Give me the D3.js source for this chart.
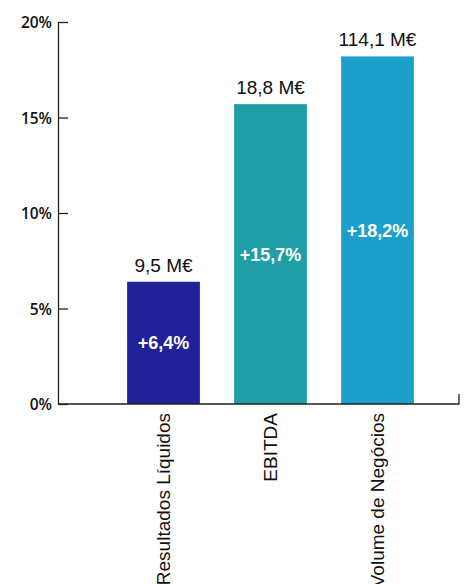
<!DOCTYPE html>
<html lang="pt">
<head>
  <meta charset="UTF-8">
  <title>Resultados</title>
  <script src="https://d3js.org/d3.v7.min.js"></script>
  <style>
    body { margin: 0; background: #fff; }
    .tick-label { font-family: "Open Sans", sans-serif; font-weight: 600; font-size: 15.5px; fill: #111; }
    .value-label { font-family: "Liberation Sans", Arial, sans-serif; font-size: 19px; fill: #111; text-anchor: middle; }
    .inner-label { font-family: "Liberation Sans", Arial, sans-serif; font-weight: bold; font-size: 18px; fill: #fff; text-anchor: middle; }
    .cat-label { font-family: "Liberation Sans", Arial, sans-serif; font-size: 19px; fill: #111; text-anchor: end; }
  </style>
</head>
<body>
  <div id="chart"></div>
  <script>
    const categories = ["Resultados Líquidos", "EBITDA", "Volume de Negócios"];
    const growth = [6.4, 15.7, 18.2];
    const amounts = ["9,5 M€", "18,8 M€", "114,1 M€"];
    const growthLabels = ["+6,4%", "+15,7%", "+18,2%"];
    const yTicks = [0, 5, 10, 15, 20];
    const colors = ["#21219a", "#1f9ea6", "#1ca0cb"];

    const W = 467, H = 584;
    const axisX = 58, axisEnd = 459;

    const svg = d3.select("#chart").append("svg")
      .attr("width", W).attr("height", H);

    const y = d3.scaleLinear().domain([0, 20]).range([404, 22]);
    const x = d3.scaleBand().domain(categories).range([110, 431])
      .paddingInner(0.32).paddingOuter(0.16);

    const data = categories.map((c, i) => ({
      cat: c, v: growth[i], amount: amounts[i], label: growthLabels[i], color: colors[i]
    }));

    // bars
    svg.selectAll(".bar").data(data).enter().append("rect")
      .attr("class", "bar")
      .attr("x", d => x(d.cat))
      .attr("width", x.bandwidth())
      .attr("y", d => y(d.v))
      .attr("height", d => y(0) - y(d.v))
      .attr("fill", d => d.color);

    // y axis
    const yAxis = svg.append("g")
      .attr("transform", `translate(${axisX},0)`)
      .call(d3.axisRight(y).tickValues(yTicks).tickSize(10).tickFormat(d => d + "%"));
    yAxis.select(".domain").attr("stroke", "#222").attr("stroke-width", 1.3)
      .attr("d", `M0.5,${y(20)}V${y(0)}`);
    yAxis.selectAll(".tick line").attr("stroke", "#222").attr("stroke-width", 1.3);
    yAxis.selectAll(".tick text")
      .attr("class", "tick-label")
      .attr("x", -6).attr("dy", "0.36em")
      .attr("text-anchor", "end")
      .attr("font-size", null).attr("font-family", null).attr("fill", null);

    // baseline
    svg.append("path")
      .attr("d", `M${axisX},${y(0)}H${axisEnd}V${y(0) - 10}`)
      .attr("fill", "none").attr("stroke", "#222").attr("stroke-width", 1.3);

    // amount labels above bars
    svg.selectAll(".value-label").data(data).enter().append("text")
      .attr("class", "value-label")
      .attr("x", d => x(d.cat) + x.bandwidth() / 2)
      .attr("y", d => y(d.v) - 10)
      .text(d => d.amount);

    // growth labels inside bars
    svg.selectAll(".inner-label").data(data).enter().append("text")
      .attr("class", "inner-label")
      .attr("x", d => x(d.cat) + x.bandwidth() / 2)
      .attr("y", d => (y(d.v) + y(0)) / 2)
      .attr("dy", "0.36em")
      .text(d => d.label);

    // rotated category labels
    svg.selectAll(".cat-label").data(data).enter().append("text")
      .attr("class", "cat-label")
      .attr("transform", d => `translate(${x(d.cat) + x.bandwidth() / 2},413) rotate(-90)`)
      .attr("dy", "0.36em")
      .text(d => d.cat);
  </script>
</body>
</html>
